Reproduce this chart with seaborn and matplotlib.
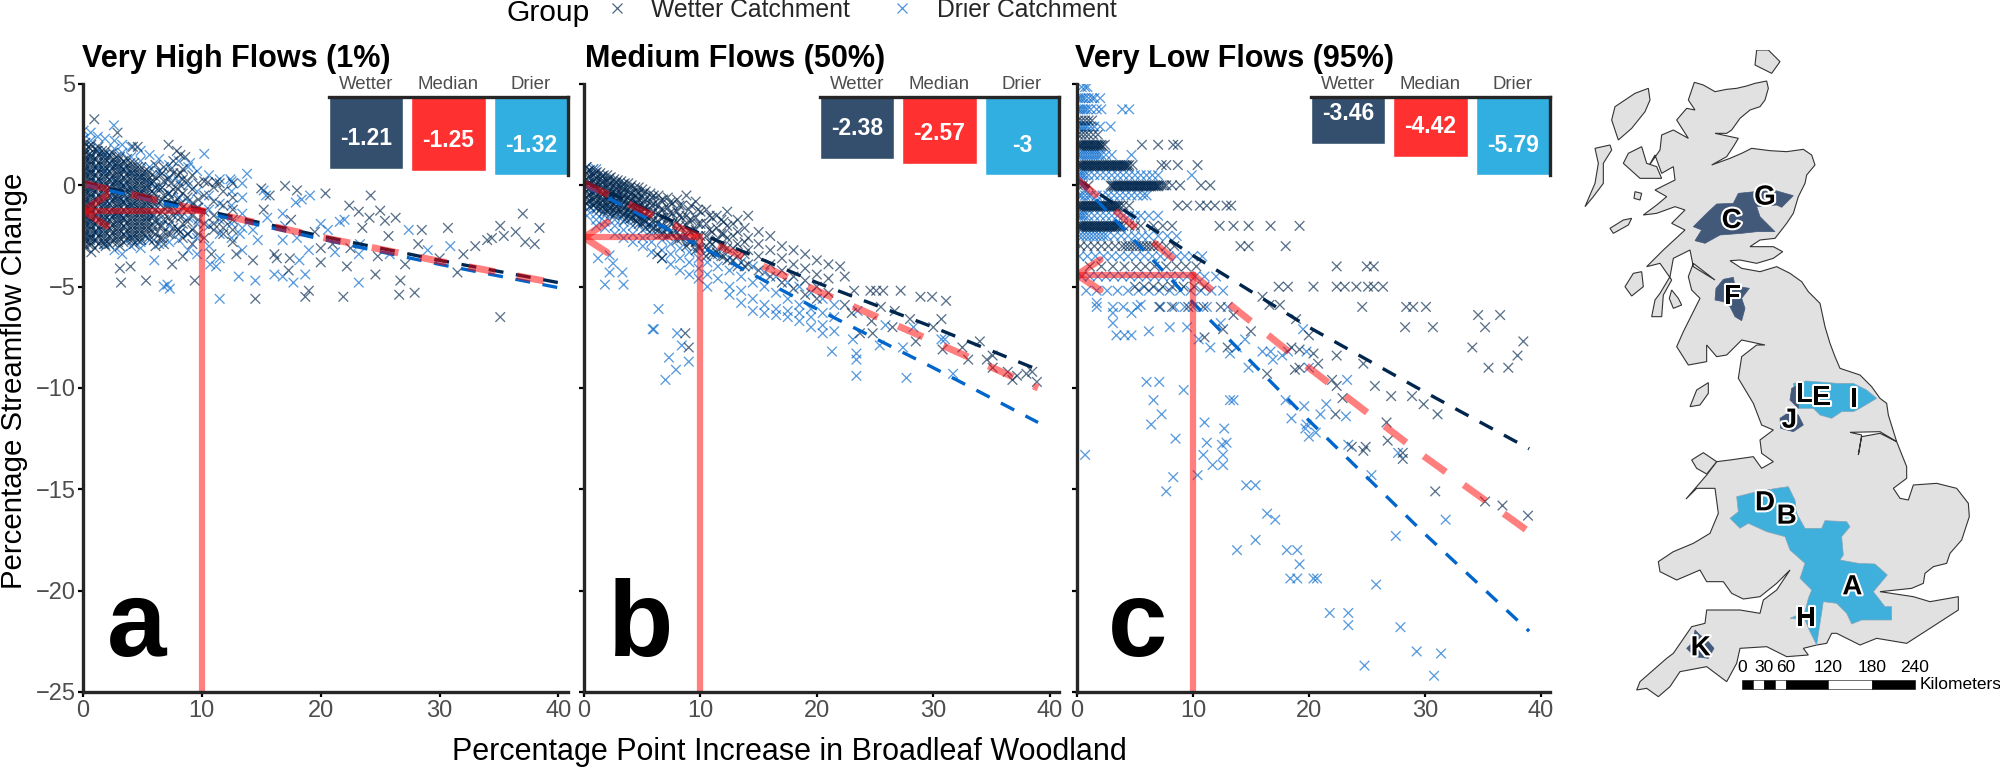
import matplotlib
matplotlib.use('Agg')
import matplotlib.pyplot as plt
import matplotlib.patheffects as pe
from matplotlib.lines import Line2D
import pandas as pd
import seaborn as sns

# ---- scatter, dense parts kept as {x: [y...]} or {y: [x...]}, sparse parts as (x, y)
wet_a_cols = {
0.2:[2.1,1.7,1.3,.9,.5,.1,-.3,-.7,-1.1,-1.5,-1.9,-2.3,-2.7,-3.1],0.7:[2.0,1.5,1.1,.7,.3,-.1,-.5,-.9,-1.3,-1.7,-2.1,-2.5,-2.9,-3.3],
1.3:[1.9,1.5,1.1,.7,.3,-.1,-.5,-.9,-1.3,-1.7,-2.1,-2.5,-2.9],1.9:[1.7,1.3,.9,.5,.1,-.3,-.7,-1.1,-1.5,-1.9,-2.3,-2.7,-3.0],
2.5:[1.6,1.2,.8,.4,0,-.4,-.8,-1.2,-1.6,-2,-2.4,-2.8],3.1:[1.4,1,.6,.2,-.2,-.6,-1,-1.4,-1.8,-2.2,-2.6,-3.0],
3.7:[1.3,.9,.5,.1,-.3,-.7,-1.1,-1.5,-1.9,-2.3,-2.7],4.3:[1.1,.7,.3,-.1,-.5,-.9,-1.3,-1.7,-2.1,-2.5,-2.9],
4.9:[.9,.5,.1,-.3,-.7,-1.1,-1.5,-1.9,-2.3,-2.7],5.5:[.7,.3,-.1,-.5,-.9,-1.3,-1.7,-2.1,-2.6],
6.1:[1.0,.4,-.1,-.7,-1.2,-1.8,-2.4,-3.0],6.8:[.9,.2,-.5,-1.1,-1.7,-2.3,-2.9],7.6:[1.2,.6,-.2,-.9,-1.5,-2.1],
8.4:[.8,.3,-.4,-1.1,-1.9,-2.6],9.2:[.5,-.2,-.9,-1.5,-2.2,-2.9],10.2:[.2,-.5,-1.3,-1.9,-2.6],11:[-.1,-.8,-1.5,-1.9,-2.2],
11.8:[-.3,-1,-1.7,-2.1,-2.4],12.6:[-.6,-1.2,-1.7,-2.2,-2.8],
0.45:[1.9,1.5,1.1,.7,.3,-.1,-.5,-.9,-1.3,-1.7,-2.1,-2.5,-2.9],1:[1.8,1.3,.9,.5,.1,-.3,-.7,-1.1,-1.5,-1.9,-2.3,-2.7,-3.1],
1.6:[1.7,1.3,.9,.5,.1,-.3,-.7,-1.1,-1.5,-1.9,-2.3,-2.7],2.2:[1.5,1.1,.7,.3,-.1,-.5,-.9,-1.3,-1.7,-2.1,-2.5,-2.9],
2.8:[1.4,1,.6,.2,-.2,-.6,-1,-1.4,-1.8,-2.2,-2.6],3.4:[1.2,.8,.4,0,-.4,-.8,-1.2,-1.6,-2,-2.4,-2.8],
4:[1.1,.7,.3,-.1,-.5,-.9,-1.3,-1.7,-2.1,-2.5],4.6:[.9,.5,.1,-.3,-.7,-1.1,-1.5,-1.9,-2.3,-2.7],
5.2:[.7,.3,-.1,-.5,-.9,-1.3,-1.7,-2.1,-2.5],5.8:[.5,.1,-.3,-.7,-1.1,-1.5,-1.9,-2.3],6.5:[.5,-.2,-.8,-1.4,-2,-2.6],
7.2:[.3,-.4,-1,-1.6,-2.4],8:[.5,-.2,-.7,-1.3,-2.2],8.8:[.2,-.6,-1.2,-1.8,-2.4],9.7:[.1,-.7,-1.1,-1.7,-2.4],
0.1:[1.9,1.5,1.1,.7,.3,-.1,-.5,-.9,-1.3,-1.7,-2.1,-2.5,-2.9],0.6:[1.8,1.3,.9,.5,.1,-.3,-.7,-1.1,-1.5,-1.9,-2.3,-2.7],
1.15:[1.7,1.3,.9,.5,.1,-.3,-.7,-1.1,-1.5,-1.9,-2.3,-2.7],1.75:[1.5,1.1,.7,.3,-.1,-.5,-.9,-1.3,-1.7,-2.1,-2.5,-2.9],
2.35:[1.4,1,.6,.2,-.2,-.6,-1,-1.4,-1.8,-2.2,-2.6],2.95:[1.2,.8,.4,0,-.4,-.8,-1.2,-1.6,-2,-2.4,-2.8],
3.55:[1.1,.7,.3,-.1,-.5,-.9,-1.3,-1.7,-2.1,-2.5],4.15:[.9,.5,.1,-.3,-.7,-1.1,-1.5,-1.9,-2.3,-2.7],
4.75:[.7,.3,-.1,-.5,-.9,-1.3,-1.7,-2.1,-2.5],5.35:[.5,.1,-.3,-.7,-1.1,-1.5,-1.9,-2.3],5.95:[.2,-.4,-.9,-1.5,-2.1,-2.7],
6.65:[.6,-.1,-.7,-1.3,-2,-2.6],7.4:[.8,.1,-.6,-1.2,-1.8,-2.4],8.2:[.6,0,-.9,-1.6,-2.3]}
dry_a_cols = {
0.05:[2.7,2.3,1.5,.7,-.1,-.9,-1.7,-2.5],0.65:[2.6,2.2,1.4,.6,-.2,-1,-1.8,-2.6],1.25:[2.4,1.7,.9,.1,-.7,-1.5,-2.3],
1.85:[2.3,1.5,.7,-.1,-.9,-1.7,-2.9],2.65:[2.2,1.8,1,.2,-.6,-1.4,-3.2],3.3:[2.0,1.6,.8,0,-.8,-1.6,-3.4],
4.05:[1.9,1.4,.6,-.2,-1,-2.6,-3.0],4.85:[1.7,1.2,.4,-.4,-1.2,-2.8,-3.1],5.6:[1.5,.9,.1,-.7,-1.5,-2.7],6.4:[1.3,.7,-.1,-.9,-1.7,-2.9],
7.25:[1.0,.4,-.4,-1.2,-2,-2.8],8.05:[1.2,.2,-.6,-1.4,-2.2,-2.7],8.85:[.9,0,-.8,-1.6,-2.4,-3.2],9.6:[.7,-.3,-1.1,-1.9,-2.6,-3.4],
10.6:[.5,-.5,-1.2,-2,-3],11.5:[.3,-.9,-1.7,-2.4,-3.6],12.5:[.2,-.3,-1,-1.9,-2.6],13.4:[.1,-.6,-1.4,-2.1,-3.2]}
wet_a_pts = [(.95,3.26),(2.9,2.6),(4.2,1.9),(4.6,1.9),(7.2,2),(7.9,1.7),(8.2,1.5),(8.6,1.4),(10.5,.15),(11.2,.15),(11.5,.1),(12.6,.1),(15,-.15),(17,-.03),(18,-.25),(15.7,-.5),(20.4,-.4),(24.2,-.5),(22.4,-1),(23.2,-1.3),(25,-1.25),(25.4,-1.75),(24.1,-1.6),(26.3,-1.6),(25.7,-2.5),(28.5,-2.2),(28.2,-2.9),(30.7,-2.1),(27.1,-3.9),(24.8,-3.5),(24.6,-4.4),(22.2,-4),(22.5,-3.1),(20,-3.1),(20,-3.8),(16.1,-3.4),(16.3,-3.6),(14.3,-3.7),(17.4,-3.6),(17.3,-4.2),(12.9,-3.4),(10.8,-3.4),(8.4,-3.5),(7.5,-3.9),(4,-4),(3.1,-4.1),(3.2,-4.8),(5.3,-4.7),(9.4,-4.7),(26.7,-4.7),(19,-5.2),(18.7,-5.5),(21.9,-5.5),(26.6,-5.4),(27.9,-5.3),(14.5,-5.6),(37,-1.4),(35.1,-2),(34.4,-2.6),(34,-2.7),(36.4,-2.3),(38.4,-2.1),(37.2,-2.8),(38,-2.9),(35.4,-2.5),(35.1,-6.5),(15.2,-1.2),(17.5,-1.7),(19.5,-2.3),(21,-2.9),(23.5,-2.1),(30,-3.6),(32,-3.4),(33,-3),(31.5,-4.3)]
dry_a_pts = [(2.6,2.96),(10.2,1.55),(13.8,.57),(9,1.1),(6.8,-5),(7.3,-5.1),(7.1,-4.9),(6,-3.7),(13.1,-4.5),(14.5,-4.7),(11.2,-4),(10.7,-3.9),(23.2,-4.8),(16.1,-4.4),(16.8,-4.5),(17.7,-4.8),(18.7,-4.4),(18.2,-3.7),(19.1,-.5),(18.4,-.7),(17.9,-.85),(16.8,-1.4),(15.2,-.25),(15.4,-.5),(21.6,-1.8),(20,-1.9),(20.6,-2.2),(27.4,-2.2),(23.3,-2.9),(23.2,-3.4),(30.9,-3),(16.8,-2.7),(18,-2.6),(14.3,-2.2),(14.7,-2.7),(13.2,-2.4),(12.4,.3),(11.5,-5.6),(22,-1.7),(19,-3.2),(21.2,-3.3),(25.8,-3.4),(29,-3.2),(15.5,-1.6),(17,-2)]

wet_b_cols = {
.2:[.9,.6,.3,0,-.3,-.6,-.9],.8:[.8,.5,.2,-.1,-.4,-.7,-1],1.4:[.6,.3,0,-.3,-.6,-.9,-1.2],2:[.5,.2,-.1,-.4,-.7,-1,-1.3],
2.6:[.3,0,-.3,-.6,-.9,-1.2,-1.5],3.2:[.2,-.1,-.4,-.7,-1,-1.3],3.8:[.1,-.3,-.6,-.9,-1.2,-1.5],4.4:[-.1,-.5,-.8,-1.1,-1.4,-1.7],
5:[-.2,-.6,-1,-1.3,-1.6,-1.9],5.7:[-.4,-.8,-1.2,-1.6,-2],6.4:[-.5,-1,-1.4,-1.8,-2.2],7.2:[-.6,-1.1,-1.6,-2.1,-2.5],
8:[-.7,-1.3,-1.8,-2.3,-2.7],8.8:[-.5,-1.5,-2,-2.5,-3],9.6:[-.8,-1.6,-2.2,-2.8,-3.2],10.5:[-1.2,-1.9,-2.5,-3,-3.5],
11.4:[-1.5,-2.1,-2.7,-3.3],12.3:[-1.3,-2,-2.6,-3.1,-3.7],13.2:[-1.7,-2.3,-2.9,-3.5,-4],14.1:[-1.5,-2.6,-3.2,-3.9],
15:[-2.3,-2.9,-3.5,-4.2],16:[-2.5,-3.2,-3.9,-4.5],17:[-3,-3.6,-4.2,-4.8],18:[-3.2,-3.9,-4.5,-5.1],19:[-3.4,-4.1,-4.7,-5.4],
20:[-3.7,-4.4,-5,-5.6],21:[-3.9,-4.6,-5.3],
.5:[.75,.45,.15,-.15,-.45,-.75,-1.05],1.1:[.65,.35,.05,-.25,-.55,-.85,-1.15],1.7:[.5,.2,-.1,-.4,-.7,-1,-1.3],2.3:[.4,.1,-.2,-.5,-.8,-1.1,-1.4],
2.9:[.25,-.05,-.35,-.65,-.95,-1.25],3.5:[.1,-.2,-.5,-.8,-1.1,-1.4,-1.7],4.1:[0,-.4,-.7,-1,-1.3,-1.6],4.7:[-.1,-.4,-.7,-1,-1.3,-1.6,-1.9],
5.3:[-.3,-.7,-1.1,-1.5,-1.8,-2.1],6:[-.5,-.9,-1.3,-1.7,-2.1],6.8:[-.7,-1.2,-1.6,-2,-2.4],7.6:[-.9,-1.4,-1.9,-2.4],8.4:[-1,-1.6,-2.1,-2.6],
9.2:[-1,-1.7,-2.3,-2.8],10:[-1.3,-1.9,-2.5,-3.1],11:[-1.6,-2.3,-2.9,-3.4],12:[-1.8,-2.4,-3,-3.5],
.35:[.7,.4,.1,-.2,-.5,-.8],.95:[.6,.3,0,-.3,-.6,-.9],1.55:[.45,.15,-.15,-.45,-.75,-1.05],2.15:[.35,.05,-.25,-.55,-.85,-1.15],
2.75:[.15,-.15,-.45,-.75,-1.05,-1.35],3.35:[.05,-.25,-.55,-.85,-1.15,-1.45],3.95:[-.1,-.45,-.75,-1.05,-1.35,-1.65],
4.55:[-.3,-.6,-.9,-1.2,-1.5,-1.8],5.15:[-.4,-.8,-1.15,-1.45,-1.75],5.85:[-.6,-1,-1.4,-1.8,-2.2],6.6:[-.75,-1.2,-1.6,-2,-2.4],
7.4:[-.85,-1.35,-1.85,-2.3],8.2:[-1,-1.5,-2,-2.5],9:[-1.2,-1.75,-2.25,-2.75],9.8:[-1.2,-1.9,-2.5,-3],10.8:[-1.5,-2.2,-2.8,-3.3],
11.8:[-1.7,-2.4,-3,-3.5],12.8:[-1.9,-2.5,-3.1,-3.7],13.8:[-2.1,-2.8,-3.4,-4]}
dry_b_cols = {
.25:[.9,-.9,-1.2,-1.5],1.05:[.8,-1.1,-1.4,-1.7,-2],1.8:[-1.2,-1.5,-1.8,-2.1],2.65:[-1.4,-1.7,-2,-2.4],3.4:[-1.5,-1.8,-2.2,-2.6],
4.2:[-1.6,-2,-2.4,-2.8],5.05:[-1.8,-2.2,-2.6,-3],5.8:[-2,-2.4,-2.8,-3.3],6.7:[-2.2,-2.7,-3.2,-3.6],7.45:[-2.4,-2.9,-3.4,-3.9],
8.25:[-2.6,-3.1,-3.6,-4.2],9.05:[-2.8,-3.3,-3.8,-4.4],9.85:[-3.1,-3.6,-4.1,-4.6],10.6:[-3.2,-3.8,-4.4,-5],11.5:[-3.4,-4,-4.6],
12.5:[-3.6,-4.2,-5,-5.4],13.5:[-3.8,-4.5,-5.2,-5.8],14.5:[-4,-4.8,-5.6,-6.2],15.5:[-4.3,-5,-5.9,-6.3],16.5:[-4.5,-5.3,-6.1,-6.4],
17.5:[-4.8,-5.6,-6.2,-6.5],18.5:[-5,-5.9,-6.3,-6.7],19.5:[-5.3,-6.1,-6.5,-7],20.5:[-5.6,-6.3,-6.9,-7.3],21.5:[-5.9,-6.5,-7.2]}
wet_b_pts = [(28.9,-5.5),(29.9,-5.5),(31.1,-5.7),(30.7,-6.6),(26.7,-6.2),(28,-6.6),(24.7,-6.7),(23.7,-7.3),(26.5,-7),(24.8,-7.3),(28.5,-7.7),(30.8,-8.1),(30,-7),(34,-7.7),(34.6,-8.6),(35.1,-8.4),(35.1,-9),(36.4,-9.2),(37.2,-9.4),(38,-9.3),(38.5,-9.2),(38.9,-9.7),(36.8,-9.6),(22.4,-4.5),(22,-4),(24.6,-5.2),(25.1,-5.2),(25.7,-5.2),(27.2,-5.2),(22.4,-5.9),(23.2,-5.2),(8.7,-7.3),(9,-8),(6.3,-3.4),(6.7,-3.6),(32.5,-8),(33,-8.6),(23,-6.3),(25.5,-6)]
dry_b_pts = [(1.2,-3.6),(2.2,-3.45),(2.5,-3.85),(2.2,-4.3),(3.3,-4.3),(1.8,-4.9),(3.4,-4.9),(6.4,-6.1),(6,-7.1),(8,-7.3),(8.4,-7.9),(7.3,-8.5),(7.9,-9.1),(9,-8.7),(7,-9.6),(5.9,-7.1),(23.1,-7.6),(23.4,-8.3),(23.4,-8.6),(23.4,-9.4),(21.3,-8.2),(25.4,-7.9),(27.4,-8),(27.7,-9.5),(31.7,-9.3),(25.9,-6.9),(23.5,-6.2),(30.7,-7.6),(31,-7.6),(28.3,-7)]

wet_c_rows = {
3.2:[.1,.4,.7,1,1.3],2.5:[.1,.4,.7,1,1.4,1.8],
2:[.1,.3,.5,.7,.9,1.1,1.3,1.5,1.7,1.9,2.1,2.4,5.6,7,8.3,8.7],
1.95:[.2,.4,.6,.8,1,1.2,1.4,1.6,1.8,2,2.2],
1:[.1,.3,.5,.7,.9,1.1,1.3,1.5,1.7,1.9,2.1,2.3,2.5,2.7,2.9,3.1,3.3,3.5,3.7,3.9,4.1,4.3,4.5,4.8,7.3,7.7,8.7,10.4],
.95:[.2,.4,.6,.8,1,1.2,1.4,1.6,1.8,2,2.2,2.4,2.6,2.8,3,3.2,3.4,3.6,3.8,4,4.2,4.4],
0:[.1,.5,1,2.9,3.1,3.3,3.5,3.7,3.9,4.1,4.3,4.5,4.7,4.9,5.1,5.3,5.5,5.7,5.9,6.1,6.3,6.5,6.7,6.9,7.1,7.3,7.5,7.7,8.2,8.9,10.7,11.5],
-.05:[3,3.2,3.4,3.6,3.8,4,4.2,4.4,4.6,4.8,5,5.2,5.4,5.6,5.8,6,6.2,6.4,6.6,6.8,7],
-1:[.1,.3,.5,.7,.9,1.1,1.3,1.5,1.7,1.9,2.1,2.3,2.5,2.7,2.9,3.1,3.3,3.5,3.7,4,4.5,8.7,9.5,10.6,11.2,11.9,12.9,13.3],
-1.05:[.2,.4,.6,.8,1,1.2,1.4,1.6,1.8,2,2.2,2.4,2.6,2.8,3,3.2,3.4,3.6],
-2:[.1,.3,.5,.7,.9,1.1,1.3,1.5,1.7,1.9,2.1,2.3,2.5,2.7,2.9,3.1,3.3,3.5,3.7,4,4.5,5,5.5,6.6,7.4,8.2,12.3,13.5,14.8,16.7,19.2],
-2.05:[.2,.4,.6,.8,1,1.2,1.4,1.6,1.8,2,2.2,2.4,2.6,2.8,3,3.2,3.4,3.6],
-3:[.3,.9,1.5,2.1,2.7,3.3,3.9,4.2,4.5,4.8,5.1,5.4,5.7,6,6.3,6.6,7,7.7,8.4,14.1,14.8,18],
-4:[1.1,2.1,3.1,4.1,5.1,5.9,6.7,7.7,8.6,9.4,10.3,22.4,25,25.6],
-5:[5,5.8,6.6,7.4,8.2,9.2,10.1,11,17.4,18.2,20.4,22.4,23.1,24.1,25.1,25.6,26.4],
-6:[7.1,8.2,9.6,10.9,12.4,24.6,28.4,29,30.1]}
dry_c_rows = {
4.85:[.4,.7,.9],4.3:[.1,.3,.5,.7,1,1.3,1.5,2],3.75:[.1,.3,.5,.7,.9,1.2,1.7,2.1,3.9,4.5],2.9:[.1,.3,.5,.7,.9,1.2,1.5,2,2.9],
1.5:[.1,.3,.5,.7,.9,1.1,1.3,1.5,1.7,1.9,2.1,2.5,3,4.7],.5:[.1,.3,.5,.7,1,1.5,2,2.5,3,3.5,4,4.5,5,5.5,6,6.5,7,9.9],
-.5:[.2,.4,.7,1,1.2,1.7,2.2,2.7,3.2,3.7,4.2,4.7,5.2,5.7,6],-1.5:[.1,.3,.5,.7,1,1.5,2,2.5,3,3.5,4,4.5,5,5.5,6.2,7],
-2.5:[.2,.5,.8,1.1,1.4,1.7,2,2.3,2.6,3.2,3.8,4.4,5,5.6,6.2,7,7.8,8.6],-3.5:[.2,.9,1.6,2.3,3,3.7,4.4,5.1,5.8,6.5,7.2,7.9,8.6,9.3,10,10.8],
-4.5:[.4,1.1,1.8,2.5,3.2,3.9,4.6,5.3,6,6.7,7.4,8.1,8.8,9.5,10.2,11,12],
-5.2:[.8,1.7,2.6,3.5,4.4,5.3,6.2,7.1,8,8.9,9.8,10.7,11.6,12.6],-6:[1.7,3.1,4,5.2,7.2,8.4,9.3,10,11.2,13]}
wet_c_pts = [(34.6,-6.4),(36.5,-6.4),(35.2,-7),(28.3,-7),(30.7,-7),(34.1,-8),(38.5,-7.7),(38,-8.4),(35.5,-9),(37.2,-9),(24.7,-8.8),(25.7,-9.9),(27.1,-10.4),(28.9,-10.4),(29.9,-10.8),(31.1,-11.3),(22.4,-8.4),(22.9,-10.5),(22.3,-11.3),(26.7,-11.7),(26.8,-12.6),(23.7,-12.9),(24.9,-12.9),(24.7,-13.1),(28.1,-13.2),(28.1,-13.5),(30.9,-15.1),(35.2,-15.6),(36.7,-15.8),(38.9,-16.3),(18.9,-6.6),(20,-7.4),(20.4,-8.3),(20.8,-8.8),(18.8,-9.1),(19.2,-9),(16.4,-9.3),(22,-9.6),(22.4,-9.9),(17.5,-5.9),(16.6,-5.9),(16,-5.5),(13.5,-6.4),(12.6,-7.1),(18.5,-8),(19.2,-8.1),(15,-7.2),(11,-7.5),(13,-8)]
dry_c_pts = [(13.2,-8.3),(13.8,-8),(14.8,-9),(16,-8.2),(16.7,-8.2),(16.9,-8.6),(17.7,-8.4),(18.2,-8.2),(18,-10.6),(19.5,-7.1),(19.8,-8.2),(20,-9),(19.6,-10.9),(18.5,-11.5),(21,-11.3),(21.5,-10.8),(23.2,-11.4),(23.3,-9.6),(19.8,-11.8),(19.7,-12),(20,-12.4),(20.6,-12.2),(23.4,-12.8),(27.7,-13.2),(25.4,-14.3),(31.8,-16.5),(27.5,-17.3),(13.2,-10.6),(13.5,-10.6),(12.7,-12),(12.9,-12.7),(12.6,-13.3),(12.6,-13.8),(14.6,-14.8),(15.4,-14.8),(16.4,-16.2),(17.1,-16.5),(15.4,-17.5),(13.8,-18),(18.1,-18),(19,-18),(19.2,-18.7),(18.4,-19.4),(19,-19.4),(20.4,-19.4),(20.7,-19.4),(.7,-13.3),(1.7,-5.8),(3.1,-6.3),(3.1,-6.8),(4.7,-6.3),(3.4,-7.4),(4.1,-7.4),(4.7,-7.4),(6,-9.7),(7.1,-9.7),(9.2,-10.1),(6.6,-10.6),(7.3,-11.3),(6.4,-11.8),(8.5,-12.5),(11,-11.7),(11.2,-12.7),(10.9,-13.3),(11.7,-13.8),(12.5,-12.8),(8.3,-14.4),(7.7,-15.1),(10.4,-14.3),(24.8,-23.7),(27.9,-21.8),(29.3,-23),(30.8,-24.2),(31.4,-23.1),(21.8,-21.1),(23.4,-21.1),(23.4,-21.7),(25.8,-19.7),(9.5,-7),(10.5,-7.6),(11.5,-8),(12.4,-6.8),(14.5,-7.6),(8,-7),(6.2,-7.2),(5.5,-5.9)]

# ---- fitted curves
line_x_a = [0,10,20,30,40]
wet_a = [.15,-1.21,-2.5,-3.7,-4.8]
med_a = [.1,-1.25,-2.55,-3.75,-4.85]
dry_a = [.05,-1.32,-2.65,-3.9,-5.05]
line_x_b = [0,10,20,30,39]
wet_b = [.2,-2.38,-4.8,-7,-9.1]
med_b = [.1,-2.57,-5.2,-7.7,-10]
dry_b = [0,-3,-6.1,-9,-11.7]
line_x_c = [0,10,20,30,39]
wet_c = [.3,-3.46,-7,-10.2,-13]
med_c = [.3,-4.42,-9,-13.4,-17.1]
dry_c = [.3,-5.79,-11.6,-17.2,-22]

# ---- small bar tables
bar_labels = ['Wetter','Median','Drier']
bars_a = [-1.21,-1.25,-1.32]
bars_b = [-2.38,-2.57,-3]
bars_c = [-3.46,-4.42,-5.79]
titles = ['Very High Flows (1%)','Medium Flows (50%)','Very Low Flows (95%)']
letters = ['a','b','c']
letter_x = [4.5,4.9,5.2]
y_ticks = [5,0,-5,-10,-15,-20,-25]
x_ticks = [0,10,20,30,40]

# ---- map outlines
gb_main = [(403,97),(430,105),(465,125),(500,118),(530,115),(560,108),(585,100),(620,93),(625,115),(615,150),(600,170),(570,180),(540,205),(515,240),(500,250),(465,250),(535,265),(520,290),(500,320),(455,345),(510,325),(545,310),(575,295),(630,302),(680,305),(730,298),(755,315),(765,345),(740,375),(735,400),(715,440),(700,490),(680,520),(645,565),(600,570),(570,590),(610,590),(640,590),(668,605),(640,625),(590,640),(540,630),(510,632),(545,655),(600,665),(650,650),(690,670),(725,695),(745,725),(780,760),(795,830),(810,880),(825,920),(840,955),(900,975),(935,1010),(960,1045),(980,1060),(985,1095),(1010,1175),(960,1145),(870,1147),(905,1155),(895,1215),(905,1160),(960,1150),(1010,1175),(1040,1250),(1040,1285),(1000,1315),(1020,1345),(1045,1350),(1060,1305),(1130,1300),(1190,1315),(1225,1360),(1228,1400),(1205,1470),(1170,1510),(1160,1540),(1120,1550),(1095,1570),(1090,1600),(1055,1615),(960,1625),(1060,1640),(1110,1655),(1195,1640),(1195,1680),(1110,1735),(1040,1780),(950,1765),(900,1785),(830,1750),(815,1750),(800,1780),(770,1785),(730,1795),(745,1815),(680,1820),(620,1790),(540,1795),(530,1840),(500,1895),(440,1850),(360,1865),(330,1910),(295,1940),(260,1915),(230,1920),(240,1895),(320,1825),(340,1810),(395,1730),(435,1720),(440,1680),(540,1680),(600,1690),(610,1650),(650,1620),(690,1560),(650,1600),(600,1640),(550,1647),(515,1630),(490,1595),(440,1595),(420,1560),(350,1590),(300,1565),(295,1535),(340,1505),(400,1480),(450,1450),(475,1390),(465,1315),(410,1315),(378,1347),(440,1275),(470,1235),(510,1230),(580,1220),(605,1255),(640,1235),(605,1210),(600,1170),(640,1140),(605,1125),(580,1060),(535,985),(545,920),(590,885),(615,885),(545,870),(500,915),(470,920),(440,885),(440,935),(385,945),(350,890),(370,845),(405,775),(420,745),(395,720),(385,680),(400,640),(465,690),(400,650),(390,600),(340,625),(330,680),(300,730),(285,750),(275,800),(305,800),(310,735),(335,690),(300,640),(260,650),(310,600),(375,540),(335,520),(375,480),(345,470),(290,490),(250,495),(290,465),(320,440),(285,420),(345,390),(340,350),(305,370),(285,315),(265,350),(300,300),(305,255),(340,240),(385,265),(350,210),(380,175),(405,180),(385,150)]
gb_islands = [
[(265,115),(270,150),(255,185),(215,235),(175,270),(155,210),(165,170),(225,130)],
[(105,295),(150,285),(155,300),(130,340),(130,400),(100,440),(75,470),(105,400),(115,340)],
[(245,290),(205,310),(190,340),(240,385),(305,385),(290,350),(260,340)],
[(150,535),(190,510),(215,505),(205,525),(160,550)],
[(195,710),(220,670),(245,665),(250,710),(215,738)],
[(335,720),(355,745),(365,765),(340,775),(328,745)],
[(590,0),(625,0),(660,35),(635,70),(585,45)],
[(390,1070),(410,1020),(445,998),(445,1030),(420,1065)],
[(395,1230),(430,1208),(470,1235),(440,1272),(410,1255)],
[(225,425),(245,430),(240,450),(222,445)]]
catch_light = [
[(530,1340),(590,1325),(650,1315),(685,1310),(705,1350),(710,1390),(735,1435),(785,1435),(795,1412),(860,1415),(870,1430),(845,1460),(850,1515),(840,1530),(895,1540),(945,1542),(982,1575),(940,1625),(975,1670),(995,1670),(995,1710),(950,1710),(905,1710),(875,1722),(860,1690),(830,1660),(790,1655),(770,1785),(750,1745),(735,1710),(690,1705),(735,1685),(745,1645),(755,1620),(720,1585),(735,1540),(690,1500),(675,1460),(620,1445),(565,1420),(540,1435),(510,1405),(535,1385)],
[(700,1000),(740,993),(830,1000),(880,1000),(920,1020),(950,1045),(900,1075),(880,1085),(845,1085),(815,1105),(780,1095),(760,1075),(715,1075)]]
catch_dark = [
[(400,530),(440,490),(470,462),(520,460),(535,430),(585,425),(640,420),(700,437),(665,472),(650,465),(590,470),(600,500),(645,545),(590,545),(545,550),(480,555),(435,580),(405,572),(425,540)],
[(468,715),(490,688),(520,682),(525,708),(568,715),(545,745),(555,775),(545,812),(525,800),(510,770),(490,755),(465,750)],
[(695,1015),(715,1005),(715,1075),(690,1050)],
[(660,1105),(690,1085),(715,1095),(730,1125),(700,1145),(662,1135)],
[(405,1740),(420,1755),(445,1775),(462,1795),(445,1825),(405,1820),(380,1795),(400,1775)]]
map_labels = ['G','C','F','L','E','I','J','D','B','A','H','K']
map_lab_x = [615,515,517,735,785,882,688,615,680,877,738,422]
map_lab_y = [443,513,740,1035,1045,1050,1112,1360,1400,1612,1707,1795]
scale_edges = [547,580,612,645,677,805,935,1065]
scale_cols = ['black','white','black','white','black','white','black']
scale_text = ['0','30','60','120','180','240']
scale_text_x = [547,612,677,805,935,1065]

wet_col, dry_col, med_col = '#00264d', '#0066cc', '#ff0000'
bar_cols = ['#344e6d','#ff3030','#30afe0']
W, H = 2000, 767


def px_axes(left, right, top, bottom):
    return fig.add_axes([left/W, 1-bottom/H, (right-left)/W, (bottom-top)/H])


def frame(cols=None, rows=None, pts=()):
    xs, ys = [], []
    for x, vals in (cols or {}).items():
        xs += [x]*len(vals)
        ys += vals
    for y, vals in (rows or {}).items():
        xs += vals
        ys += [y]*len(vals)
    xs += [p[0] for p in pts]
    ys += [p[1] for p in pts]
    return pd.DataFrame({'x': xs, 'y': ys})


sns.set_theme(style='ticks')
plt.rcParams['font.family'] = ['Liberation Sans', 'DejaVu Sans']
fig = plt.figure(figsize=(W/100, H/100), dpi=100)

panels = [
    dict(l=83, r=568, wet=frame(cols=wet_a_cols, pts=wet_a_pts), dry=frame(cols=dry_a_cols, pts=dry_a_pts),
         lx=line_x_a, lw_=wet_a, lm=med_a, ld=dry_a, bars=bars_a, tx=82),
    dict(l=584, r=1059, wet=frame(cols=wet_b_cols, pts=wet_b_pts), dry=frame(cols=dry_b_cols, pts=dry_b_pts),
         lx=line_x_b, lw_=wet_b, lm=med_b, ld=dry_b, bars=bars_b, tx=585),
    dict(l=1077, r=1550, wet=frame(rows=wet_c_rows, pts=wet_c_pts), dry=frame(rows=dry_c_rows, pts=dry_c_pts),
         lx=line_x_c, lw_=wet_c, lm=med_c, ld=dry_c, bars=bars_c, tx=1075),
]

for i, p in enumerate(panels):
    ax = px_axes(p['l'], p['r'], 84, 692)
    df = pd.concat([p['dry'].assign(group='Drier Catchment'), p['wet'].assign(group='Wetter Catchment')])
    sns.scatterplot(data=df, x='x', y='y', hue='group', palette={'Wetter Catchment': wet_col, 'Drier Catchment': dry_col},
                    marker='x', s=48, linewidth=.95, alpha=.65, legend=False, ax=ax)
    sns.lineplot(x=p['lx'], y=p['lw_'], color=wet_col, linewidth=2.4, linestyle=(0, (4.5, 3.8)), ax=ax)
    sns.lineplot(x=p['lx'], y=p['ld'], color=dry_col, linewidth=2.4, linestyle=(0, (4.5, 3.8)), ax=ax)
    sns.lineplot(x=p['lx'], y=p['lm'], color=med_col, alpha=.5, linewidth=5, linestyle=(0, (3.9, 3.2)), ax=ax)
    # red guide from 10 points up to the median curve and back to the y axis
    v = p['bars'][1]
    ax.plot([10, 10, 0], [-25, v, v], color=med_col, alpha=.5, lw=4.5, solid_joinstyle='miter')
    ax.plot([2, 0, 2], [v+.75, v, v-.75], color=med_col, alpha=.5, lw=5)
    ax.set_xlim(0, 40.8)
    ax.set_ylim(-25, 5)
    ax.set_xticks(x_ticks)
    ax.set_yticks(y_ticks)
    ax.set_xlabel('')
    ax.set_ylabel('')
    if i > 0:
        ax.set_yticklabels([])
    ax.tick_params(length=3.5, width=1.6, color='black', labelcolor='#4d4d4d', labelsize=17, pad=2)
    ax.spines[['top', 'right']].set_visible(False)
    ax.spines[['left', 'bottom']].set_linewidth(2.4)
    ax.patch.set_alpha(0)
    ax.text(letter_x[i], -23.2, letters[i], fontsize=77, fontweight='bold', ha='center', va='baseline', color='black')
    fig.text(p['tx']/W, 1-67/H, titles[i], fontsize=22, fontweight='bold', ha='left', va='baseline', color='black')

    ins = px_axes(p['r']-239, p['r'], 97, 175)
    sns.barplot(x=bar_labels, y=p['bars'], hue=bar_labels, palette=bar_cols, width=.9, saturation=1, legend=False, ax=ins)
    ins.set_xlim(-.45, 2.45)
    ins.set_ylim(min(p['bars']), 0)
    ins.xaxis.tick_top()
    ins.tick_params(axis='x', length=0, labelsize=13.4, labelcolor='#4d4d4d', pad=3)
    ins.set_yticks([])
    ins.set_xlabel('')
    ins.set_ylabel('')
    ins.patch.set_alpha(0)
    ins.spines[['left', 'bottom']].set_visible(False)
    ins.spines[['top', 'right']].set_linewidth(2.4)
    for j, val in enumerate(p['bars']):
        ins.annotate(f'{val:g}', xy=(j, val), xytext=(0, 21.6), textcoords='offset points', ha='center', va='center',
                     color='white', fontweight='bold', fontsize=16.5)

fig.text(14/W, 1-381/H, 'Percentage Streamflow Change', rotation=90, fontsize=21.2, ha='center', va='center', color='black')
fig.text(789/W, 1-752/H, 'Percentage Point Increase in Broadleaf Woodland', fontsize=22, ha='center', va='center', color='black')
fig.text(507/W, 1-13/H, 'Group', fontsize=21.6, ha='left', va='center', color='black')
handles = [Line2D([], [], linestyle='none', marker='x', markersize=7, markeredgewidth=.9, color=wet_col, alpha=.7, label='Wetter Catchment'),
           Line2D([], [], linestyle='none', marker='x', markersize=7, markeredgewidth=.9, color=dry_col, alpha=.7, label='Drier Catchment')]
fig.legend(handles=handles, ncol=2, frameon=False, fontsize=17.8, loc='center left', bbox_to_anchor=(592/W, 1-10/H),
           columnspacing=1.1, handletextpad=.4, borderpad=0, borderaxespad=0)

# map lives in its own axes, units are the traced ones
m = px_axes(1560, 2000, 50, 767)
m.set_xlim(0, 1320)
m.set_ylim(2151, 0)
m.axis('off')
for poly in [gb_main] + gb_islands:
    m.fill([q[0] for q in poly], [q[1] for q in poly], facecolor='#e1e1e1', edgecolor='#333333', linewidth=.8)
for poly in catch_light:
    m.fill([q[0] for q in poly], [q[1] for q in poly], facecolor='#3fafdc', edgecolor='#8aa6b8', linewidth=.5)
for poly in catch_dark:
    m.fill([q[0] for q in poly], [q[1] for q in poly], facecolor='#43597a', edgecolor='#43597a', linewidth=.5)
for s, x, y in zip(map_labels, map_lab_x, map_lab_y):
    m.text(x, y, s, fontsize=20, fontweight='bold', color='black', ha='center', va='center',
           path_effects=[pe.withStroke(linewidth=3, foreground='white')])
for k, c in enumerate(scale_cols):
    m.barh(1903, scale_edges[k+1]-scale_edges[k], left=scale_edges[k], height=25, color=c, edgecolor='black', linewidth=.4)
for s, x in zip(scale_text, scale_text_x):
    m.text(x, 1853, s, fontsize=12.5, ha='center', va='center', color='black')
m.text(1078, 1903, 'Kilometers', fontsize=12.5, ha='left', va='center', color='black')

fig.savefig('out.png', dpi=100)
